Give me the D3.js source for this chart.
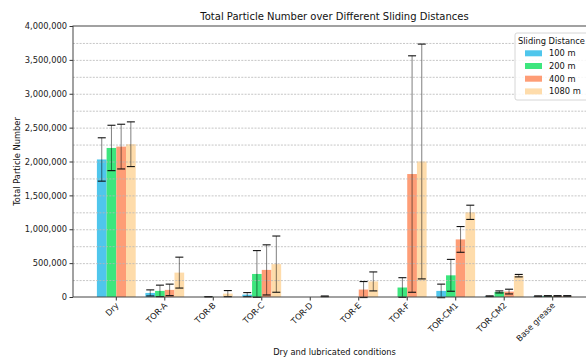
<!DOCTYPE html>
<html>
<head>
<meta charset="utf-8">
<script src="https://cdn.jsdelivr.net/npm/d3@7"></script>
<style>
  body { margin: 0; background: #fff; }
  svg { font-family: "DejaVu Sans", sans-serif; }
</style>
</head>
<body>
<svg id="chart" width="586" height="358"></svg>
<script>
const categories = ["Dry", "TOR-A", "TOR-B", "TOR-C", "TOR-D", "TOR-E", "TOR-F", "TOR-CM1", "TOR-CM2", "Base grease"];
const series = ["100 m", "200 m", "400 m", "1080 m"];
const colors = ["#4fc6ec", "#3de67e", "#fe9d76", "#fedcab"];

// null = no bar for that condition
const mean100  = [2030000, 60000, null, 35000, null, null, null, 90000, 12000, 12000];
const err100   = [320000, 45000, null, 30000, null, null, null, 100000, 5000, 5000];
const mean200  = [2200000, 90000, 4000, 340000, null, null, 140000, 320000, 75000, 15000];
const err200   = [335000, 85000, 3000, 345000, null, null, 145000, 235000, 15000, 5000];
const mean400  = [2220000, 105000, null, 400000, null, 110000, 1815000, 850000, 80000, 15000];
const err400   = [330000, 85000, null, 370000, null, 118000, 1745000, 190000, 35000, 5000];
const mean1080 = [2255000, 360000, 50000, 485000, 10000, 230000, 2000000, 1250000, 315000, 15000];
const err1080  = [330000, 228000, 45000, 415000, 5000, 140000, 1733000, 105000, 18000, 5000];

const yTicks = [0, 500000, 1000000, 1500000, 2000000, 2500000, 3000000, 3500000, 4000000];
const yGrid = d3.range(0, 4000001, 250000);

const means = [mean100, mean200, mean400, mean1080];
const errs = [err100, err200, err400, err1080];

const rows = [];
categories.forEach((c, i) => {
    series.forEach((s, j) => {
        if (means[j][i] !== null) rows.push({ cat: c, ser: s, idx: j, v: means[j][i], e: errs[j][i] });
    });
});

const pLeft = 73, pRight = 596, pTop = 26, pBottom = 297;
const svg = d3.select("#chart");

const x = d3.scaleBand().domain(categories).range([pLeft, pRight]).paddingInner(0).paddingOuter(0.393);
const step = x.step();
const xSub = d3.scaleBand().domain(series).range([-0.4 * step, 0.4 * step]);
const y = d3.scaleLinear().domain([0, 4000000]).range([pBottom, pTop]);

// bars
svg.append("g").selectAll("rect")
    .data(rows)
    .join("rect")
    .attr("x", d => x(d.cat) + step / 2 + xSub(d.ser))
    .attr("y", d => y(d.v))
    .attr("width", xSub.bandwidth())
    .attr("height", d => y(0) - y(d.v))
    .attr("fill", d => colors[d.idx]);

// grid
svg.append("g").selectAll("line")
    .data(yGrid.filter(v => v > 0 && v < 4000000))
    .join("line")
    .attr("x1", pLeft).attr("x2", pRight)
    .attr("y1", d => y(d) + 0.5).attr("y2", d => y(d) + 0.5)
    .attr("stroke", "#b8b8b8")
    .attr("stroke-width", 0.8)
    .attr("stroke-dasharray", "2,1.3");

// error bars
const eb = svg.append("g").selectAll("g")
    .data(rows)
    .join("g")
    .attr("transform", d => `translate(${x(d.cat) + step / 2 + xSub(d.ser) + xSub.bandwidth() / 2},0)`);

eb.append("line")
    .attr("y1", d => y(d.v + d.e)).attr("y2", d => y(d.v - d.e))
    .attr("stroke", "#000").attr("stroke-opacity", 0.5).attr("stroke-width", 1);

eb.selectAll(".cap")
    .data(d => [d.v + d.e, d.v - d.e])
    .join("line")
    .attr("class", "cap")
    .attr("x1", -4).attr("x2", 4)
    .attr("y1", d => y(d)).attr("y2", d => y(d))
    .attr("stroke", "#111").attr("stroke-width", 1.1);

// axes
const yAxis = d3.axisLeft(y).tickValues(yTicks).tickSize(3.5).tickPadding(2.5).tickFormat(d3.format(","));
const gy = svg.append("g").attr("transform", `translate(${pLeft},0)`).call(yAxis);
gy.select(".domain").remove();
gy.selectAll("text").attr("font-size", 8.3).attr("fill", "#222").attr("font-family", "DejaVu Sans");
gy.selectAll("line").attr("stroke", "#333");

const xAxis = d3.axisBottom(x).tickSize(3.5).tickSizeOuter(0);
const gx = svg.append("g").attr("transform", `translate(0,${pBottom})`).call(xAxis);
gx.select(".domain").remove();
gx.selectAll("line").attr("stroke", "#333");
gx.selectAll("text")
    .attr("font-size", 8.3).attr("fill", "#222").attr("font-family", "DejaVu Sans")
    .attr("text-anchor", "end")
    .attr("y", 0).attr("dy", 0)
    .attr("transform", "translate(3,9) rotate(-45)");

// spines
svg.append("rect")
    .attr("x", pLeft).attr("y", pTop)
    .attr("width", pRight - pLeft).attr("height", pBottom - pTop)
    .attr("fill", "none").attr("stroke", "#444").attr("stroke-width", 1);

// labels
svg.append("text")
    .attr("x", (pLeft + pRight) / 2).attr("y", 20)
    .attr("text-anchor", "middle")
    .attr("font-size", 10).attr("fill", "#111")
    .text("Total Particle Number over Different Sliding Distances");

svg.append("text")
    .attr("x", (pLeft + pRight) / 2).attr("y", 355)
    .attr("text-anchor", "middle")
    .attr("font-size", 8.3).attr("fill", "#111")
    .text("Dry and lubricated conditions");

svg.append("text")
    .attr("transform", `translate(20,${(pTop + pBottom) / 2}) rotate(-90)`)
    .attr("text-anchor", "middle")
    .attr("font-size", 8.3).attr("fill", "#111")
    .text("Total Particle Number");

// legend
const lg = svg.append("g").attr("transform", "translate(515,33)");
lg.append("rect")
    .attr("width", 80).attr("height", 67).attr("rx", 2)
    .attr("fill", "#fff").attr("fill-opacity", 0.85)
    .attr("stroke", "#ccc").attr("stroke-width", 0.8);
lg.append("text")
    .attr("x", 3).attr("y", 11)
    .attr("font-size", 8.3).attr("fill", "#111")
    .text("Sliding Distance");
const li = lg.selectAll(".item")
    .data(series)
    .join("g")
    .attr("class", "item")
    .attr("transform", (d, i) => `translate(0,${20.3 + i * 12.7})`);
li.append("rect")
    .attr("x", 10).attr("y", -3).attr("width", 17).attr("height", 6)
    .attr("fill", (d, i) => colors[i]);
li.append("text")
    .attr("x", 34).attr("y", 3)
    .attr("font-size", 8.3).attr("fill", "#111")
    .text(d => d);
</script>
</body>
</html>
